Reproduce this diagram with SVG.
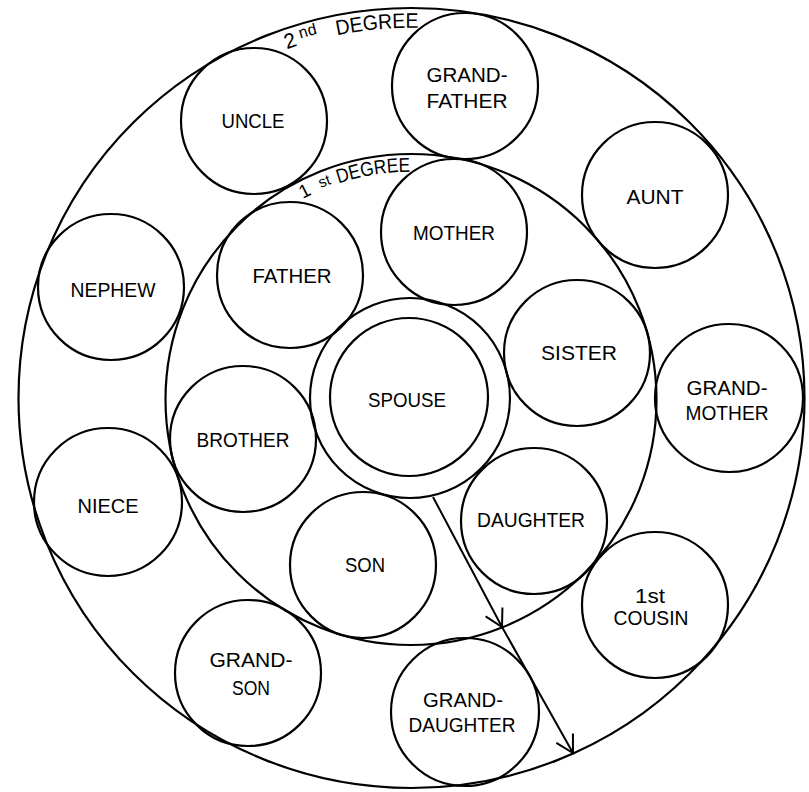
<svg xmlns="http://www.w3.org/2000/svg" xmlns:xlink="http://www.w3.org/1999/xlink" width="809" height="792" viewBox="0 0 809 792">
  <style>
    .ring { fill: none; stroke: #000; stroke-width: 2.2; }
    .lbl { font-family: "Liberation Sans", Arial, sans-serif; font-size: 21px; text-anchor: middle; fill: #000; }
    .deg { font-family: "Liberation Sans", Arial, sans-serif; fill: #000; }
    .conn { fill: none; stroke: #000; stroke-width: 2; }
  </style>
  <defs>
    <marker id="vhead" markerUnits="userSpaceOnUse" markerWidth="24" markerHeight="24" viewBox="-20 -12 22 24" refX="0" refY="0" orient="auto">
      <path d="M-17,-9.5 L0,0 L-17,9.5" fill="none" stroke="#000" stroke-width="2"/>
    </marker>
    <path id="arcOuter" d="M174.4,113.2 A372,372 0 0,1 648.6,113.2"/>
    <path id="arcInner" d="M236.4,253 A228,228 0 0,1 585.6,253"/>
  </defs>
  <rect width="809" height="792" fill="#fff"/>

  <g id="degree-rings">
    <ellipse class="ring" cx="411.5" cy="398" rx="393" ry="390"/>
    <ellipse class="ring" cx="411" cy="399.5" rx="245.5" ry="245.5"/>
    <text class="deg" font-size="21"><textPath xlink:href="#arcOuter" href="#arcOuter" startOffset="130">2</textPath></text>
    <text class="deg" font-size="16"><textPath xlink:href="#arcOuter" href="#arcOuter" startOffset="146"><tspan dy="-6">nd</tspan></textPath></text>
    <text class="deg" font-size="21"><textPath xlink:href="#arcOuter" href="#arcOuter" startOffset="182" textLength="82" lengthAdjust="spacingAndGlyphs">DEGREE</textPath></text>
    <text class="deg" font-size="19"><textPath xlink:href="#arcInner" href="#arcInner" startOffset="86">1</textPath></text>
    <text class="deg" font-size="15"><textPath xlink:href="#arcInner" href="#arcInner" startOffset="107"><tspan dy="-2">st</tspan></textPath></text>
    <text class="deg" font-size="20"><textPath xlink:href="#arcInner" href="#arcInner" startOffset="125" textLength="73" lengthAdjust="spacingAndGlyphs">DEGREE</textPath></text>
  </g>

  <g id="connectors">
    <line class="conn" x1="433" y1="497" x2="502" y2="627" marker-end="url(#vhead)"/>
    <line class="conn" x1="502" y1="627" x2="573" y2="753" marker-end="url(#vhead)"/>
  </g>

  <g id="spouse">
    <circle class="ring" cx="410" cy="398" r="100"/>
    <circle class="ring" cx="409" cy="397" r="79"/>
    <text class="lbl" x="407" y="407" textLength="78" lengthAdjust="spacingAndGlyphs">SPOUSE</text>
  </g>
  <g id="uncle">
    <circle class="ring" cx="254" cy="121" r="73"/>
    <text class="lbl" x="253" y="128" textLength="63" lengthAdjust="spacingAndGlyphs">UNCLE</text>
  </g>
  <g id="grandfather">
    <circle class="ring" cx="465" cy="86" r="73"/>
    <text class="lbl" x="467" y="82" textLength="81" lengthAdjust="spacingAndGlyphs">GRAND-</text>
    <text class="lbl" x="467" y="108" textLength="81" lengthAdjust="spacingAndGlyphs">FATHER</text>
  </g>
  <g id="aunt">
    <circle class="ring" cx="655" cy="195" r="73"/>
    <text class="lbl" x="655" y="204" textLength="57" lengthAdjust="spacingAndGlyphs">AUNT</text>
  </g>
  <g id="nephew">
    <circle class="ring" cx="111" cy="287" r="73"/>
    <text class="lbl" x="113" y="297" textLength="85" lengthAdjust="spacingAndGlyphs">NEPHEW</text>
  </g>
  <g id="father">
    <circle class="ring" cx="290" cy="275" r="73"/>
    <text class="lbl" x="292" y="283" textLength="79" lengthAdjust="spacingAndGlyphs">FATHER</text>
  </g>
  <g id="mother">
    <circle class="ring" cx="454" cy="232" r="73"/>
    <text class="lbl" x="454" y="240" textLength="82" lengthAdjust="spacingAndGlyphs">MOTHER</text>
  </g>
  <g id="sister">
    <circle class="ring" cx="577" cy="353" r="73"/>
    <text class="lbl" x="579" y="360" textLength="76" lengthAdjust="spacingAndGlyphs">SISTER</text>
  </g>
  <g id="grandmother">
    <circle class="ring" cx="729" cy="398" r="74"/>
    <text class="lbl" x="727" y="395" textLength="81" lengthAdjust="spacingAndGlyphs">GRAND-</text>
    <text class="lbl" x="727" y="420" textLength="83" lengthAdjust="spacingAndGlyphs">MOTHER</text>
  </g>
  <g id="brother">
    <circle class="ring" cx="243" cy="439" r="73"/>
    <text class="lbl" x="243" y="447" textLength="93" lengthAdjust="spacingAndGlyphs">BROTHER</text>
  </g>
  <g id="niece">
    <circle class="ring" cx="108" cy="502" r="74"/>
    <text class="lbl" x="108" y="513" textLength="61" lengthAdjust="spacingAndGlyphs">NIECE</text>
  </g>
  <g id="daughter">
    <circle class="ring" cx="534" cy="521" r="73"/>
    <text class="lbl" x="531" y="527" textLength="108" lengthAdjust="spacingAndGlyphs">DAUGHTER</text>
  </g>
  <g id="son">
    <circle class="ring" cx="363" cy="565" r="73"/>
    <text class="lbl" x="365" y="572" textLength="40" lengthAdjust="spacingAndGlyphs">SON</text>
  </g>
  <g id="first-cousin">
    <circle class="ring" cx="655" cy="605" r="73"/>
    <text class="lbl" x="650" y="603" textLength="30" lengthAdjust="spacingAndGlyphs">1st</text>
    <text class="lbl" x="651" y="625" textLength="75" lengthAdjust="spacingAndGlyphs">COUSIN</text>
  </g>
  <g id="grandson">
    <circle class="ring" cx="248" cy="673" r="73"/>
    <text class="lbl" x="251" y="667" textLength="83" lengthAdjust="spacingAndGlyphs">GRAND-</text>
    <text class="lbl" x="251" y="695" textLength="38" lengthAdjust="spacingAndGlyphs">SON</text>
  </g>
  <g id="granddaughter">
    <circle class="ring" cx="465" cy="712" r="74"/>
    <text class="lbl" x="463" y="707" textLength="80" lengthAdjust="spacingAndGlyphs">GRAND-</text>
    <text class="lbl" x="462" y="732" textLength="107" lengthAdjust="spacingAndGlyphs">DAUGHTER</text>
  </g>
</svg>
